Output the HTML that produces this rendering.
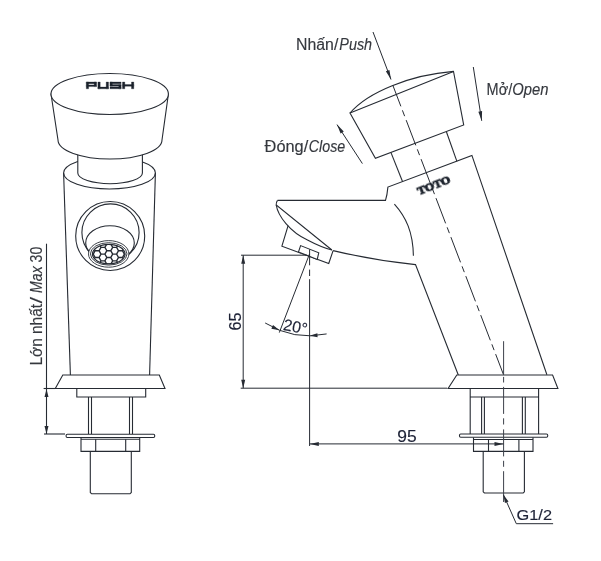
<!DOCTYPE html>
<html><head><meta charset="utf-8"><style>
html,body{margin:0;padding:0;background:#fff;}
body{width:601px;height:561px;overflow:hidden;position:relative;}
svg{position:absolute;left:0;top:0;}
text{font-family:"Liberation Sans",sans-serif;}
.lb{stroke:#35383e;stroke-width:0.15;}
.dm{stroke:#1d2236;stroke-width:0.15;}
</style></head><body>
<svg width="601" height="561" viewBox="0 0 601 561">
<rect width="601" height="561" fill="#fff"/>
<ellipse cx="109.5" cy="173" rx="45.9" ry="16" fill="white" stroke="#262b33" stroke-width="1.1"/>
<line x1="63.6" y1="173" x2="70.4" y2="375" stroke="#262b33" stroke-width="1.1" />
<line x1="155.4" y1="173" x2="149.6" y2="375" stroke="#262b33" stroke-width="1.1" />
<path d="M77.8,150 L77.8,173 A32.3,10.7 0 0 0 142.4,173 L142.4,150 Z" stroke="#262b33" stroke-width="1.1" fill="white" />
<path d="M51,94 L58,140 A52,19 0 0 0 162,140 L168.4,94 Z" stroke="#262b33" stroke-width="1.1" fill="white" />
<ellipse cx="109.7" cy="94" rx="58.7" ry="20.5" fill="white" stroke="#262b33" stroke-width="1.1"/>
<path d="M86.3,82 H88.6 V88.8 H86.3 Z M86.3,82 H96.5 V83.7 H86.3 Z M94.2,82 H96.5 V86.6 H94.2 Z M86.3,84.9 H96.5 V86.6 H86.3 Z M97.9,82 H100.2 V88.8 H97.9 Z M106.2,82 H108.5 V88.8 H106.2 Z M97.9,87.1 H108.5 V88.8 H97.9 Z M110,82 H121.1 V83.7 H110 Z M110,82 H112.3 V86.2 H110 Z M110,84.6 H121.1 V86.2 H110 Z M118.8,84.6 H121.1 V88.8 H118.8 Z M110,87.1 H121.1 V88.8 H110 Z M122.5,82 H124.8 V88.8 H122.5 Z M131.5,82 H133.8 V88.8 H131.5 Z M122.5,84.6 H133.8 V86.2 H122.5 Z " fill="#1c222c" stroke="#1c222c" stroke-width="0.3" stroke-linejoin="round"/>
<circle cx="110.2" cy="236" r="34.5" fill="white" stroke="#262b33" stroke-width="1.1"/>
<clipPath id="upper"><rect x="0" y="0" width="601" height="253"/></clipPath>
<circle cx="110.5" cy="232.5" r="28.6" fill="white" stroke="#262b33" stroke-width="1.1"/>
<ellipse cx="110" cy="243" rx="24.3" ry="17.3" fill="none" stroke="#262b33" stroke-width="1.1"/>
<ellipse cx="108.7" cy="253.9" rx="20.2" ry="13.3" fill="white" stroke="#262b33" stroke-width="0.9"/>
<ellipse cx="108.7" cy="253.9" rx="18.3" ry="11.2" fill="white" stroke="#262b33" stroke-width="0.9"/>
<clipPath id="aer"><ellipse cx="108.75" cy="254.1" rx="16.3" ry="9.8"/></clipPath>
<g clip-path="url(#aer)"><path d="M89.30,233.84 L87.35,237.21 L83.45,237.21 L81.50,233.84 L83.45,230.46 L87.35,230.46 Z M89.30,240.59 L87.35,243.97 L83.45,243.97 L81.50,240.59 L83.45,237.21 L87.35,237.21 Z M89.30,247.35 L87.35,250.72 L83.45,250.72 L81.50,247.35 L83.45,243.97 L87.35,243.97 Z M89.30,254.10 L87.35,257.48 L83.45,257.48 L81.50,254.10 L83.45,250.72 L87.35,250.72 Z M89.30,260.85 L87.35,264.23 L83.45,264.23 L81.50,260.85 L83.45,257.48 L87.35,257.48 Z M89.30,267.61 L87.35,270.99 L83.45,270.99 L81.50,267.61 L83.45,264.23 L87.35,264.23 Z M89.30,274.36 L87.35,277.74 L83.45,277.74 L81.50,274.36 L83.45,270.99 L87.35,270.99 Z M95.15,237.21 L93.20,240.59 L89.30,240.59 L87.35,237.21 L89.30,233.84 L93.20,233.84 Z M95.15,243.97 L93.20,247.35 L89.30,247.35 L87.35,243.97 L89.30,240.59 L93.20,240.59 Z M95.15,250.72 L93.20,254.10 L89.30,254.10 L87.35,250.72 L89.30,247.35 L93.20,247.35 Z M95.15,257.48 L93.20,260.85 L89.30,260.85 L87.35,257.48 L89.30,254.10 L93.20,254.10 Z M95.15,264.23 L93.20,267.61 L89.30,267.61 L87.35,264.23 L89.30,260.85 L93.20,260.85 Z M95.15,270.99 L93.20,274.36 L89.30,274.36 L87.35,270.99 L89.30,267.61 L93.20,267.61 Z M95.15,277.74 L93.20,281.12 L89.30,281.12 L87.35,277.74 L89.30,274.36 L93.20,274.36 Z M101.00,233.84 L99.05,237.21 L95.15,237.21 L93.20,233.84 L95.15,230.46 L99.05,230.46 Z M101.00,240.59 L99.05,243.97 L95.15,243.97 L93.20,240.59 L95.15,237.21 L99.05,237.21 Z M101.00,247.35 L99.05,250.72 L95.15,250.72 L93.20,247.35 L95.15,243.97 L99.05,243.97 Z M101.00,254.10 L99.05,257.48 L95.15,257.48 L93.20,254.10 L95.15,250.72 L99.05,250.72 Z M101.00,260.85 L99.05,264.23 L95.15,264.23 L93.20,260.85 L95.15,257.48 L99.05,257.48 Z M101.00,267.61 L99.05,270.99 L95.15,270.99 L93.20,267.61 L95.15,264.23 L99.05,264.23 Z M101.00,274.36 L99.05,277.74 L95.15,277.74 L93.20,274.36 L95.15,270.99 L99.05,270.99 Z M106.85,237.21 L104.90,240.59 L101.00,240.59 L99.05,237.21 L101.00,233.84 L104.90,233.84 Z M106.85,243.97 L104.90,247.35 L101.00,247.35 L99.05,243.97 L101.00,240.59 L104.90,240.59 Z M106.85,250.72 L104.90,254.10 L101.00,254.10 L99.05,250.72 L101.00,247.35 L104.90,247.35 Z M106.85,257.48 L104.90,260.85 L101.00,260.85 L99.05,257.48 L101.00,254.10 L104.90,254.10 Z M106.85,264.23 L104.90,267.61 L101.00,267.61 L99.05,264.23 L101.00,260.85 L104.90,260.85 Z M106.85,270.99 L104.90,274.36 L101.00,274.36 L99.05,270.99 L101.00,267.61 L104.90,267.61 Z M106.85,277.74 L104.90,281.12 L101.00,281.12 L99.05,277.74 L101.00,274.36 L104.90,274.36 Z M112.70,233.84 L110.75,237.21 L106.85,237.21 L104.90,233.84 L106.85,230.46 L110.75,230.46 Z M112.70,240.59 L110.75,243.97 L106.85,243.97 L104.90,240.59 L106.85,237.21 L110.75,237.21 Z M112.70,247.35 L110.75,250.72 L106.85,250.72 L104.90,247.35 L106.85,243.97 L110.75,243.97 Z M112.70,254.10 L110.75,257.48 L106.85,257.48 L104.90,254.10 L106.85,250.72 L110.75,250.72 Z M112.70,260.85 L110.75,264.23 L106.85,264.23 L104.90,260.85 L106.85,257.48 L110.75,257.48 Z M112.70,267.61 L110.75,270.99 L106.85,270.99 L104.90,267.61 L106.85,264.23 L110.75,264.23 Z M112.70,274.36 L110.75,277.74 L106.85,277.74 L104.90,274.36 L106.85,270.99 L110.75,270.99 Z M118.55,237.21 L116.60,240.59 L112.70,240.59 L110.75,237.21 L112.70,233.84 L116.60,233.84 Z M118.55,243.97 L116.60,247.35 L112.70,247.35 L110.75,243.97 L112.70,240.59 L116.60,240.59 Z M118.55,250.72 L116.60,254.10 L112.70,254.10 L110.75,250.72 L112.70,247.35 L116.60,247.35 Z M118.55,257.48 L116.60,260.85 L112.70,260.85 L110.75,257.48 L112.70,254.10 L116.60,254.10 Z M118.55,264.23 L116.60,267.61 L112.70,267.61 L110.75,264.23 L112.70,260.85 L116.60,260.85 Z M118.55,270.99 L116.60,274.36 L112.70,274.36 L110.75,270.99 L112.70,267.61 L116.60,267.61 Z M118.55,277.74 L116.60,281.12 L112.70,281.12 L110.75,277.74 L112.70,274.36 L116.60,274.36 Z M124.40,233.84 L122.45,237.21 L118.55,237.21 L116.60,233.84 L118.55,230.46 L122.45,230.46 Z M124.40,240.59 L122.45,243.97 L118.55,243.97 L116.60,240.59 L118.55,237.21 L122.45,237.21 Z M124.40,247.35 L122.45,250.72 L118.55,250.72 L116.60,247.35 L118.55,243.97 L122.45,243.97 Z M124.40,254.10 L122.45,257.48 L118.55,257.48 L116.60,254.10 L118.55,250.72 L122.45,250.72 Z M124.40,260.85 L122.45,264.23 L118.55,264.23 L116.60,260.85 L118.55,257.48 L122.45,257.48 Z M124.40,267.61 L122.45,270.99 L118.55,270.99 L116.60,267.61 L118.55,264.23 L122.45,264.23 Z M124.40,274.36 L122.45,277.74 L118.55,277.74 L116.60,274.36 L118.55,270.99 L122.45,270.99 Z M130.25,237.21 L128.30,240.59 L124.40,240.59 L122.45,237.21 L124.40,233.84 L128.30,233.84 Z M130.25,243.97 L128.30,247.35 L124.40,247.35 L122.45,243.97 L124.40,240.59 L128.30,240.59 Z M130.25,250.72 L128.30,254.10 L124.40,254.10 L122.45,250.72 L124.40,247.35 L128.30,247.35 Z M130.25,257.48 L128.30,260.85 L124.40,260.85 L122.45,257.48 L124.40,254.10 L128.30,254.10 Z M130.25,264.23 L128.30,267.61 L124.40,267.61 L122.45,264.23 L124.40,260.85 L128.30,260.85 Z M130.25,270.99 L128.30,274.36 L124.40,274.36 L122.45,270.99 L124.40,267.61 L128.30,267.61 Z M130.25,277.74 L128.30,281.12 L124.40,281.12 L122.45,277.74 L124.40,274.36 L128.30,274.36 Z M136.10,233.84 L134.15,237.21 L130.25,237.21 L128.30,233.84 L130.25,230.46 L134.15,230.46 Z M136.10,240.59 L134.15,243.97 L130.25,243.97 L128.30,240.59 L130.25,237.21 L134.15,237.21 Z M136.10,247.35 L134.15,250.72 L130.25,250.72 L128.30,247.35 L130.25,243.97 L134.15,243.97 Z M136.10,254.10 L134.15,257.48 L130.25,257.48 L128.30,254.10 L130.25,250.72 L134.15,250.72 Z M136.10,260.85 L134.15,264.23 L130.25,264.23 L128.30,260.85 L130.25,257.48 L134.15,257.48 Z M136.10,267.61 L134.15,270.99 L130.25,270.99 L128.30,267.61 L130.25,264.23 L134.15,264.23 Z M136.10,274.36 L134.15,277.74 L130.25,277.74 L128.30,274.36 L130.25,270.99 L134.15,270.99 Z" stroke="#262b33" stroke-width="1.35" fill="none"/></g>
<ellipse cx="108.75" cy="254.1" rx="16.3" ry="9.8" fill="none" stroke="#262b33" stroke-width="1.2"/>
<path d="M62.8,375 L159.3,375 L165,388.5 L55.3,388.5 Z" stroke="#262b33" stroke-width="1.1" fill="white" />
<line x1="43.6" y1="388.5" x2="55.3" y2="388.5" stroke="#262b33" stroke-width="1.1" />
<path d="M76.8,388.5 V397 H145.7 V388.5" stroke="#262b33" stroke-width="1.1" fill="none" />
<line x1="88.5" y1="397" x2="88.5" y2="434" stroke="#262b33" stroke-width="1.1" />
<line x1="91.5" y1="397" x2="91.5" y2="434" stroke="#262b33" stroke-width="1.1" />
<line x1="129.5" y1="397" x2="129.5" y2="434" stroke="#262b33" stroke-width="1.1" />
<line x1="132.5" y1="397" x2="132.5" y2="434" stroke="#262b33" stroke-width="1.1" />
<rect x="66.1" y="434.3" width="88.6" height="3.2" rx="1.2" fill="white" stroke="#262b33" stroke-width="1.1"/>
<path d="M81,437.4 V451.4 H139.7 V437.4" stroke="#262b33" stroke-width="1.1" fill="none" />
<line x1="81" y1="439.3" x2="139.7" y2="439.3" stroke="#262b33" stroke-width="1.1" />
<line x1="95.7" y1="439.3" x2="95.7" y2="451.4" stroke="#262b33" stroke-width="1.1" />
<line x1="125.7" y1="439.3" x2="125.7" y2="451.4" stroke="#262b33" stroke-width="1.1" />
<path d="M90.3,451.4 V492.5 L91.6,493.8 H130 L131.3,492.5 V451.4" stroke="#262b33" stroke-width="1.1" fill="none" />
<line x1="44" y1="434" x2="65" y2="434" stroke="#262b33" stroke-width="1.1" />
<line x1="46.5" y1="243.7" x2="46.5" y2="434" stroke="#262b33" stroke-width="1.1" />
<path d="M46.50,389.10 L48.50,397.10 L44.50,397.10 Z" fill="#262b33" stroke="none"/>
<path d="M46.50,434.00 L44.50,426.00 L48.50,426.00 Z" fill="#262b33" stroke="none"/>
<path d="M392.8,85.2 L503.5,374.7" stroke="#262b33" stroke-width="1.0" fill="none" stroke-dasharray="27 4.25 6.25 4.25" stroke-dashoffset="4.35"/>
<path d="M350,113 C368,92 410,75 453.5,71.4" stroke="#262b33" stroke-width="1.1" fill="none" />
<path d="M350,113 L453.5,71.4 L463.7,125 L375.4,158.3 Z" stroke="#262b33" stroke-width="1.1" fill="none" />
<line x1="391" y1="152.6" x2="402.6" y2="181.7" stroke="#262b33" stroke-width="1.1" />
<line x1="446.4" y1="131.7" x2="456.9" y2="161.4" stroke="#262b33" stroke-width="1.1" />
<path d="M277.5,200.4 H385.5 Q387.2,195 387.9,187.1 L471.9,155.4 L546.9,374.7" stroke="#262b33" stroke-width="1.1" fill="none" />
<path d="M277.5,200.4 Q276,202.5 276.2,205 L331.9,250" stroke="#262b33" stroke-width="1.1" fill="none" />
<path d="M276.2,205 C278,216 290,232 307.5,240 C315,244 324,248 331.9,250" stroke="#262b33" stroke-width="1.1" fill="none" />
<path d="M288.1,225.6 L281.9,246.2 L328.75,263.5 L333.1,250.6" stroke="#262b33" stroke-width="1.1" fill="none" />
<path d="M300.6,245.6 L298.5,251.9 L317.25,259.4 L318.75,252.75 Z" stroke="#262b33" stroke-width="1.1" fill="white" />
<path d="M333.1,250.6 Q374,260.4 415.5,264.6 L458.3,375" stroke="#262b33" stroke-width="1.1" fill="none" />
<path d="M394.4,204.1 C406,217 413,232 413.4,255.8" stroke="#262b33" stroke-width="1.1" fill="none" />
<path d="M456.8,375 L552.6,375 L557.9,388.5 L448.1,388.5 Z" stroke="#262b33" stroke-width="1.1" fill="white" />
<path d="M470.2,388.5 V434.2 M538.6,388.5 V434.2 M470.2,397 H538.6" stroke="#262b33" stroke-width="1.1" fill="none" />
<line x1="481.6" y1="397" x2="481.6" y2="434.2" stroke="#262b33" stroke-width="1.1" />
<line x1="484.4" y1="397" x2="484.4" y2="434.2" stroke="#262b33" stroke-width="1.1" />
<line x1="522.4" y1="397" x2="522.4" y2="434.2" stroke="#262b33" stroke-width="1.1" />
<line x1="525.3" y1="397" x2="525.3" y2="434.2" stroke="#262b33" stroke-width="1.1" />
<rect x="459.5" y="434" width="88.2" height="3.2" rx="1.2" fill="white" stroke="#262b33" stroke-width="1.1"/>
<path d="M473.5,437.4 V451.4 H533 V437.4" stroke="#262b33" stroke-width="1.1" fill="none" />
<line x1="473.7" y1="439.5" x2="533" y2="439.5" stroke="#262b33" stroke-width="1.1" />
<line x1="488.5" y1="439.5" x2="488.5" y2="451.4" stroke="#262b33" stroke-width="1.1" />
<line x1="518.9" y1="439.5" x2="518.9" y2="451.4" stroke="#262b33" stroke-width="1.1" />
<path d="M483.2,451.4 V491.8 L484.4,493 H523.2 L524.4,491.8 V451.4" stroke="#262b33" stroke-width="1.1" fill="none" />
<line x1="503.6" y1="341.2" x2="503.6" y2="374.7" stroke="#3c414a" stroke-width="1.0" />
<path d="M503.6,374.7 L503.6,502" stroke="#3c414a" stroke-width="1.0" fill="none" stroke-dasharray="0 2.2 5.6 4.4 27 4.4 6.2 4.9 27 4.4 6 4.4 40"/>
<path d="M503.5,494.9 L516.3,523.7 H553.1" stroke="#262b33" stroke-width="1.0" fill="none" />
<path d="M503.50,494.90 L508.58,501.40 L504.92,503.02 Z" fill="#262b33" stroke="none"/>
<line x1="309.6" y1="279.2" x2="309.6" y2="446" stroke="#262b33" stroke-width="1.0" />
<line x1="309.6" y1="249.3" x2="309.6" y2="265.3" stroke="#262b33" stroke-width="1.0" />
<line x1="309.6" y1="269.6" x2="309.6" y2="276" stroke="#262b33" stroke-width="1.0" />
<line x1="309.8" y1="443.9" x2="503.5" y2="443.9" stroke="#262b33" stroke-width="1.0" />
<path d="M309.80,443.90 L318.80,441.90 L318.80,445.90 Z" fill="#262b33" stroke="none"/>
<path d="M503.50,443.90 L494.50,445.90 L494.50,441.90 Z" fill="#262b33" stroke="none"/>
<line x1="241" y1="255.2" x2="307" y2="255.2" stroke="#262b33" stroke-width="1.0" />
<line x1="240.7" y1="388.2" x2="447.1" y2="388.2" stroke="#262b33" stroke-width="1.0" />
<line x1="243.2" y1="255.2" x2="243.2" y2="388.2" stroke="#262b33" stroke-width="1.0" />
<path d="M243.20,255.20 L245.20,263.70 L241.20,263.70 Z" fill="#262b33" stroke="none"/>
<path d="M243.20,388.20 L241.20,379.70 L245.20,379.70 Z" fill="#262b33" stroke="none"/>
<line x1="309.5" y1="254" x2="279.3" y2="332.6" stroke="#262b33" stroke-width="1.0" />
<path d="M265.15,322.98 A83.7,83.7 0 0 0 326.62,333.93" stroke="#262b33" stroke-width="1.0" fill="none" />
<path d="M279.50,330.14 L271.38,328.71 L273.01,325.06 Z" fill="#262b33" stroke="none"/>
<path d="M309.50,335.70 L317.38,333.28 L317.59,337.28 Z" fill="#262b33" stroke="none"/>
<line x1="373" y1="32" x2="391" y2="79.5" stroke="#262b33" stroke-width="1.0" />
<path d="M391.00,79.50 L385.86,71.29 L389.41,69.94 Z" fill="#262b33" stroke="none"/>
<line x1="473.3" y1="67" x2="481.7" y2="120.8" stroke="#262b33" stroke-width="1.0" />
<path d="M481.70,120.80 L478.36,111.71 L482.11,111.12 Z" fill="#262b33" stroke="none"/>
<line x1="362.4" y1="163.6" x2="337" y2="124.6" stroke="#262b33" stroke-width="1.0" />
<path d="M337.00,124.60 L343.78,131.52 L340.59,133.60 Z" fill="#262b33" stroke="none"/>
<g style="will-change:transform">
<text x="296" y="49.8" font-size="15.6" class="lb" fill="#35383e" textLength="42.3" lengthAdjust="spacingAndGlyphs">Nhấn/</text>
<text x="339.3" y="49.8" font-size="15.6" class="lb" fill="#35383e" font-style="italic" textLength="32.8" lengthAdjust="spacingAndGlyphs">Push</text>
<text x="486.6" y="94.8" font-size="15.6" class="lb" fill="#35383e" textLength="25.6" lengthAdjust="spacingAndGlyphs">Mở/</text>
<text x="512.3" y="94.8" font-size="15.6" class="lb" fill="#35383e" font-style="italic" textLength="36.2" lengthAdjust="spacingAndGlyphs">Open</text>
<text x="264.6" y="151.5" font-size="15.6" class="lb" fill="#35383e" textLength="43.6" lengthAdjust="spacingAndGlyphs">Đóng/</text>
<text x="308.8" y="151.5" font-size="15.6" class="lb" fill="#35383e" font-style="italic" textLength="36.4" lengthAdjust="spacingAndGlyphs">Close</text>
<text transform="translate(41.9,365.5) rotate(-90)" font-size="15.9" class="lb" fill="#35383e" textLength="61.5" lengthAdjust="spacingAndGlyphs">Lớn nhất</text>
<text transform="translate(41.9,365.5) rotate(-90)" x="62" font-size="15.9" class="lb" fill="#35383e" textLength="6.6" lengthAdjust="spacingAndGlyphs">/</text>
<text transform="translate(41.9,365.5) rotate(-90)" x="72.6" font-size="15.9" class="lb" fill="#35383e" textLength="46.2" lengthAdjust="spacingAndGlyphs"><tspan font-style="italic">Max</tspan> 30</text>
<text x="397.2" y="441.9" font-size="15.8" class="dm" fill="#1d2236" textLength="19.4" lengthAdjust="spacingAndGlyphs">95</text>
<text transform="translate(241.3,330.6) rotate(-90)" font-size="16.5" class="dm" fill="#1d2236" textLength="18" lengthAdjust="spacingAndGlyphs">65</text>
<text transform="translate(282.5,329.8) rotate(11)" x="0" y="0" font-size="16" class="dm" fill="#1d2236" textLength="24.2" lengthAdjust="spacingAndGlyphs">20°</text>
<text x="516.6" y="520.4" font-size="14.6" class="dm" fill="#1d2236" textLength="35.4" lengthAdjust="spacingAndGlyphs">G1/2</text>
<text transform="translate(435.2,188.6) rotate(-21.5)" font-weight="bold" font-size="11" fill="#1c222c" stroke="#1c222c" stroke-width="0.95" text-anchor="middle" style="font-family:'Liberation Serif',serif" textLength="34.5" lengthAdjust="spacingAndGlyphs">TOTO</text>
</g>
</svg>
</body></html>
